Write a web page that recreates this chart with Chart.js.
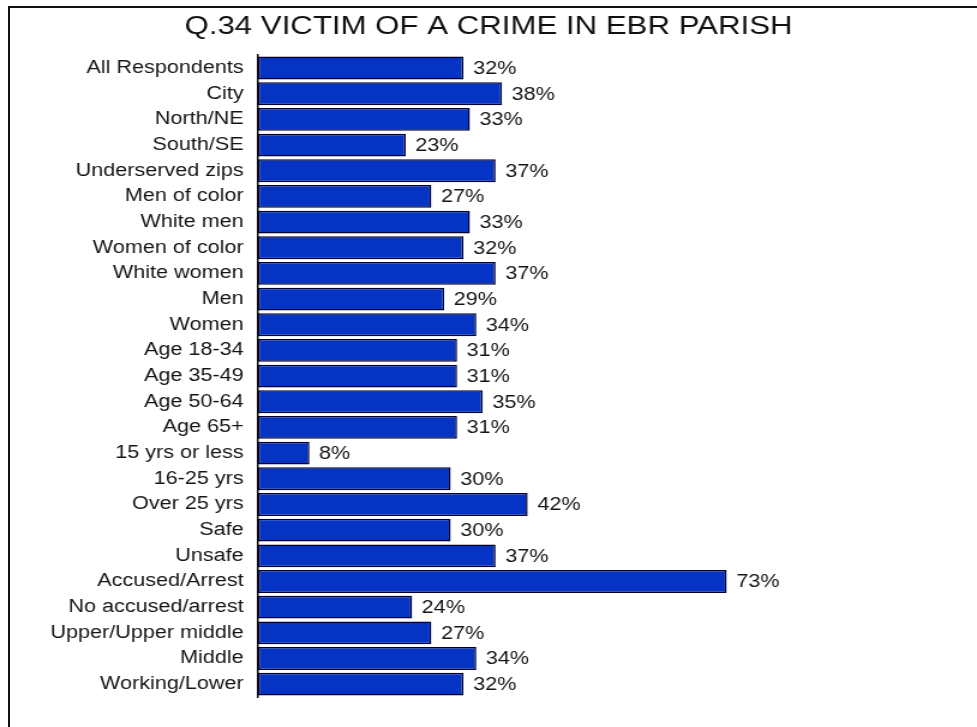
<!DOCTYPE html>
<html>
<head>
<meta charset="utf-8">
<script src="https://cdn.jsdelivr.net/npm/chart.js@4"></script>
<style>
  body { margin: 0; background: #fff; }
  #wrap { position: relative; width: 977px; height: 727px; overflow: hidden; }
  #chart { position: absolute; left: 0; top: 0; }
  #frame { position: absolute; left: 8px; top: 6px; right: -10px; bottom: -10px;
           border-top: 2px solid #111; border-left: 2px solid #111; pointer-events: none; }
</style>
</head>
<body>
<div id="wrap">
  <!-- drawn at 814 wide and stretched out to 977, like the exported slide -->
  <canvas id="chart" width="814" height="727" style="width:977px;height:727px"></canvas>
  <div id="frame"></div>
</div>
<script>
const groups = ['All Respondents', 'City', 'North/NE', 'South/SE', 'Underserved zips',
  'Men of color', 'White men', 'Women of color', 'White women', 'Men', 'Women',
  'Age 18-34', 'Age 35-49', 'Age 50-64', 'Age 65+', '15 yrs or less', '16-25 yrs',
  'Over 25 yrs', 'Safe', 'Unsafe', 'Accused/Arrest', 'No accused/arrest',
  'Upper/Upper middle', 'Middle', 'Working/Lower'];
const victimPct = [32, 38, 33, 23, 37, 27, 33, 32, 37, 29, 34, 31, 31, 35, 31,
  8, 30, 42, 30, 37, 73, 24, 27, 34, 32];
const title = 'Q.34 VICTIM OF A CRIME IN EBR PARISH';

const textColor = '#151515';
const font = 'Liberation Sans, Arial, sans-serif';

// percent labels just past the end of each bar
const valueLabels = {
  id: 'valueLabels',
  afterDatasetsDraw(chart) {
    const ctx = chart.ctx;
    const meta = chart.getDatasetMeta(0);
    ctx.save();
    ctx.font = '18px ' + font;
    ctx.fillStyle = textColor;
    ctx.textAlign = 'left';
    ctx.textBaseline = 'middle';
    meta.data.forEach((bar, i) => {
      ctx.fillText(victimPct[i] + '%', bar.x + 8, bar.y + 1);
    });
    ctx.restore();
  }
};

new Chart(document.getElementById('chart'), {
  type: 'bar',
  data: {
    labels: groups,
    datasets: [{
      data: victimPct,
      backgroundColor: '#0533c4',
      borderColor: '#000030',
      borderWidth: 1.5,
      borderSkipped: false,
      barPercentage: 0.89,
      categoryPercentage: 1
    }]
  },
  options: {
    indexAxis: 'y',
    responsive: false,
    animation: false,
    devicePixelRatio: 1,
    layout: { padding: { left: 0, right: 0, top: 0, bottom: 30 } },
    plugins: {
      legend: { display: false },
      tooltip: { enabled: false },
      title: {
        display: true,
        text: title,
        color: '#111',
        font: { family: font, size: 26, weight: 'normal' },
        padding: { top: 11, bottom: 13 }
      }
    },
    scales: {
      x: {
        display: false,
        min: 0,
        max: 112  // extra room on the right for the 73% label
      },
      y: {
        afterFit(scale) { scale.width = 215; },
        grid: { display: false, drawTicks: false },
        border: { display: true, color: '#111', width: 1.5 },
        ticks: {
          color: textColor,
          padding: 12,
          font: { family: font, size: 18 }
        }
      }
    }
  },
  plugins: [valueLabels]
});
</script>
</body>
</html>
